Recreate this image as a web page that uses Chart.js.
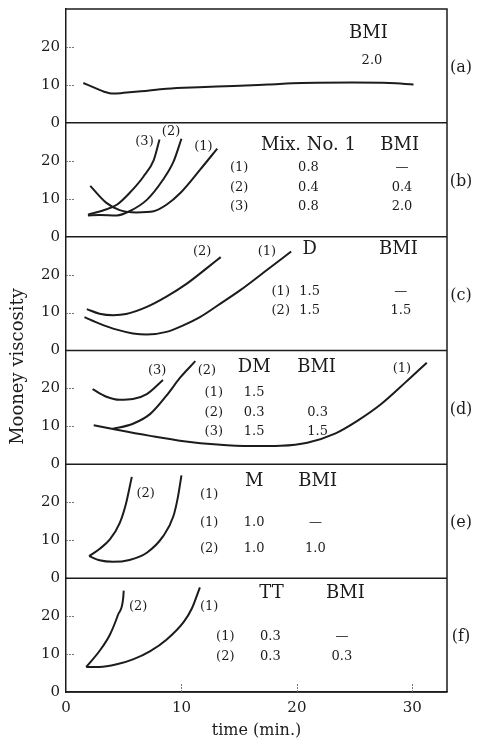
<!DOCTYPE html>
<html><head><meta charset="utf-8">
<script src="https://cdn.jsdelivr.net/npm/chart.js@4"></script>
<style>html,body{margin:0;padding:0;background:#fff;}canvas{display:block;}</style>
</head><body>
<canvas id="c" width="482" height="739"></canvas>
<script>
// ---------- data (time in min, Mooney viscosity) ----------
const panelLabels = ['(a)','(b)','(c)','(d)','(e)','(f)'];
const xTicks = [0, 10, 20, 30];
const yTicks = [0, 10, 20];

const a_time  = [1.5, 2.5, 3.3, 4.1, 5, 6.5, 8.7, 11.5, 14.5, 17.5, 20.4, 24.8, 28, 30.1];
const a_visc  = [10.5, 9.2, 8.2, 7.7, 7.9, 8.3, 9.0, 9.4, 9.7, 10.1, 10.5, 10.6, 10.5, 10.1];

const b1_time = [2.1, 3.5, 4.65, 6.1, 7.6, 8.7, 9.9, 11.6, 13.1];
const b1_visc = [13.4, 8.9, 7.0, 6.4, 6.7, 8.4, 11.5, 17.6, 23.2];
const b2_time = [1.9, 2.9, 4.4, 5.5, 7.0, 8.4, 9.3, 10.0];
const b2_visc = [5.6, 5.7, 5.6, 6.7, 9.7, 15.0, 19.7, 25.8];
const b3_time = [1.9, 3.2, 4.4, 5.5, 6.7, 7.6, 8.1];
const b3_visc = [5.8, 6.9, 8.4, 11.5, 15.8, 20.2, 25.6];

const c1_time = [1.6, 2.9, 4.4, 5.8, 7.0, 8.7, 10.2, 11.6, 13.1, 15.1, 17.4, 19.5];
const c1_visc = [8.8, 7.1, 5.5, 4.5, 4.2, 4.9, 6.7, 8.8, 11.8, 15.9, 21.2, 26.1];
const c2_time = [1.8, 2.9, 4.1, 5.2, 7.0, 8.7, 10.5, 12.2, 13.4];
const c2_visc = [10.9, 9.7, 9.3, 9.6, 11.5, 14.2, 17.7, 21.7, 24.6];

const d1_time = [2.4, 4.4, 7.3, 10.2, 13.1, 16.0, 18.6, 20.9, 23.3, 25.3, 27.3, 29.4, 31.25];
const d1_visc = [10.3, 9.1, 7.5, 6.1, 5.2, 4.8, 4.9, 5.7, 8.1, 11.6, 15.9, 21.6, 26.8];
const d2_time = [4.0, 5.8, 7.3, 8.7, 9.9, 11.2];
const d2_visc = [9.3, 10.7, 13.3, 18.1, 22.9, 27.2];
const d3_time = [2.3, 3.5, 4.65, 5.8, 7.0, 8.4];
const d3_visc = [19.8, 17.8, 17.0, 17.2, 18.5, 22.2];

const e1_time = [2.0, 2.9, 4.07, 5.5, 7.0, 8.4, 9.3, 9.7, 10.0];
const e1_visc = [5.8, 4.7, 4.3, 4.8, 6.7, 11.0, 16.3, 21.5, 27.1];
const e2_time = [2.0, 2.9, 3.8, 4.65, 5.2, 5.7];
const e2_visc = [5.8, 7.7, 10.2, 14.5, 19.7, 26.7];

const f1_time = [1.75, 2.9, 4.4, 5.8, 7.3, 8.7, 10.2, 10.9, 11.6];
const f1_visc = [6.6, 6.6, 7.3, 8.6, 10.8, 13.8, 18.5, 22.0, 27.6];
const f2_time = [1.75, 2.9, 3.8, 4.5, 4.95, 5.0];
const f2_visc = [6.6, 10.8, 15.1, 20.3, 24.6, 26.7];

// table texts in each panel
const tableA = { head: ['BMI'], rows: [['2.0']] };
const tableB = { head: ['Mix. No. 1', 'BMI'], rows: [['(1)','0.8','—'], ['(2)','0.4','0.4'], ['(3)','0.8','2.0']] };
const tableC = { head: ['D', 'BMI'], rows: [['(1)','1.5','—'], ['(2)','1.5','1.5']] };
const tableD = { head: ['DM', 'BMI'], rows: [['(1)','1.5',''], ['(2)','0.3','0.3'], ['(3)','1.5','1.5']] };
const tableE = { head: ['M', 'BMI'], rows: [['(1)','1.0','—'], ['(2)','1.0','1.0']] };
const tableF = { head: ['TT', 'BMI'], rows: [['(1)','0.3','—'], ['(2)','0.3','0.3']] };

// ---------- layout of annotations (data coordinates of each panel) ----------
const panelIds = ['ya','yb','yc','yd','ye','yf'];
const tableLayout = [
  { id:'ya', t: tableA, headX:[26.2], headY:23.5, colX:[26.5], rowY:[16.5] },
  { id:'yb', t: tableB, headX:[21.0, 28.9], headY:24.2, colX:[15.0, 21.0, 29.1], rowY:[18.3, 12.9, 8.0] },
  { id:'yc', t: tableC, headX:[21.1, 28.8], headY:26.6, colX:[18.6, 21.1, 29.0], rowY:[15.4, 10.5] },
  { id:'yd', t: tableD, headX:[16.3, 21.7], headY:25.5, colX:[12.8, 16.3, 21.8], rowY:[19.0, 13.6, 8.5] },
  { id:'ye', t: tableE, headX:[16.3, 21.8], headY:25.5, colX:[12.4, 16.3, 21.6], rowY:[14.6, 7.8] },
  { id:'yf', t: tableF, headX:[17.8, 24.2], headY:26.0, colX:[13.8, 17.7, 23.9], rowY:[14.6, 9.3] }
];
const curveLabels = [
  { id:'yb', text:'(3)', x:6.8, y:25.0 }, { id:'yb', text:'(2)', x:9.1, y:27.8 }, { id:'yb', text:'(1)', x:11.9, y:23.8 },
  { id:'yc', text:'(2)', x:11.8, y:26.1 }, { id:'yc', text:'(1)', x:17.4, y:26.1 },
  { id:'yd', text:'(3)', x:7.9, y:24.6 }, { id:'yd', text:'(2)', x:12.2, y:24.6 }, { id:'yd', text:'(1)', x:29.1, y:25.2 },
  { id:'ye', text:'(2)', x:6.9, y:22.3 }, { id:'ye', text:'(1)', x:12.4, y:21.9 },
  { id:'yf', text:'(2)', x:6.25, y:22.4 }, { id:'yf', text:'(1)', x:12.4, y:22.4 }
];

const curves = [
  [a_time, a_visc, 'ya'],
  [b1_time, b1_visc, 'yb'], [b2_time, b2_visc, 'yb'], [b3_time, b3_visc, 'yb'],
  [c1_time, c1_visc, 'yc'], [c2_time, c2_visc, 'yc'],
  [d1_time, d1_visc, 'yd'], [d2_time, d2_visc, 'yd'], [d3_time, d3_visc, 'yd'],
  [e1_time, e1_visc, 'ye'], [e2_time, e2_visc, 'ye'],
  [f1_time, f1_visc, 'yf'], [f2_time, f2_visc, 'yf']
];

const FONT = '"DejaVu Serif"';
const INK = '#1c1c1c';

const datasets = curves.map(([t, v, id]) => ({
  data: t.map((x, i) => ({ x, y: v[i] })),
  yAxisID: id,
  borderColor: INK,
  borderWidth: 2,
  pointRadius: 0,
  fill: false,
  cubicInterpolationMode: 'monotone'
}));

function yAxis(w) {
  return {
    type: 'linear', position: 'left', stack: 'panels', stackWeight: 1, weight: w,
    min: 0, max: 30,
    ticks: { stepSize: 10, includeBounds: false, autoSkip: false, padding: 6, color: INK,
             font: { family: FONT, size: 15 },
             callback: v => (yTicks.includes(v) ? String(v) : '') },
    grid: { display: true, drawOnChartArea: false, drawTicks: false },
    border: { display: true, color: INK, width: 1.5 },
    afterFit: s => { s.width = 66; s.paddingTop = 0; s.paddingBottom = 0; }
  };
}

const scales = {
  x: {
    type: 'linear', position: 'bottom', min: 0, max: 33,
    ticks: { stepSize: 10, includeBounds: false, autoSkip: false, padding: 7, color: INK,
             font: { family: FONT, size: 15 },
             callback: v => (xTicks.includes(v) ? String(v) : '') },
    grid: { display: true, drawOnChartArea: false, drawTicks: false },
    border: { display: true, color: INK, width: 1.5 },
    title: { display: true, text: 'time (min.)', color: INK, font: { family: FONT, size: 16, lineHeight: 1.0 }, padding: { top: 0, bottom: 0 } },
    afterFit: s => { s.height = 47; s.paddingLeft = 0; s.paddingRight = 0; }
  }
};
panelIds.forEach((id, i) => { scales[id] = yAxis(6 - i); });

const deco = {
  id: 'deco',
  afterDraw(chart) {
    const ctx = chart.ctx, ca = chart.chartArea, xs = chart.scales.x;
    ctx.save();
    // frame and panel separators
    ctx.strokeStyle = INK; ctx.lineWidth = 1.5;
    ctx.beginPath();
    ctx.moveTo(ca.left, ca.top); ctx.lineTo(ca.right, ca.top); ctx.lineTo(ca.right, ca.bottom);
    panelIds.forEach(id => { const s = chart.scales[id]; ctx.moveTo(ca.left, s.bottom); ctx.lineTo(ca.right, s.bottom); });
    ctx.stroke();
    // inner tick marks
    ctx.beginPath();
    ctx.strokeStyle = '#777'; ctx.lineWidth = 1; ctx.setLineDash([2, 1]);
    panelIds.forEach(id => {
      const s = chart.scales[id];
      yTicks.forEach(v => { if (v === 0) return; const y = Math.round(s.getPixelForValue(v)) + 0.5; ctx.moveTo(ca.left, y); ctx.lineTo(ca.left + 9, y); });
    });
    xTicks.forEach(t => { if (t === 0) return; const x = Math.round(xs.getPixelForValue(t)) + 0.5; ctx.moveTo(x, ca.bottom); ctx.lineTo(x, ca.bottom - 9); });
    ctx.stroke();
    ctx.setLineDash([]);
    // texts
    ctx.fillStyle = INK; ctx.textAlign = 'center'; ctx.textBaseline = 'middle';
    const put = (txt, px, py, size) => { ctx.font = size + 'px ' + FONT; ctx.fillText(txt, px, py); };
    tableLayout.forEach(L => {
      const s = chart.scales[L.id];
      L.t.head.forEach((h, i) => put(h, xs.getPixelForValue(L.headX[i]), s.getPixelForValue(L.headY), 18));
      L.t.rows.forEach((row, r) => row.forEach((cell, c) => {
        if (!cell) return;
        put(cell, xs.getPixelForValue(L.colX[c]), s.getPixelForValue(L.rowY[r]), 13);
      }));
    });
    curveLabels.forEach(l => put(l.text, xs.getPixelForValue(l.x), chart.scales[l.id].getPixelForValue(l.y), 13));
    // panel labels on the right
    panelIds.forEach((id, i) => { const s = chart.scales[id]; put(panelLabels[i], ca.right + 14, (s.top + s.bottom) / 2 + 2, 16); });
    // y axis title
    ctx.save();
    ctx.translate(18, (ca.top + ca.bottom) / 2 + 16);
    ctx.rotate(-Math.PI / 2);
    put('Mooney viscosity', 0, 0, 18);
    ctx.restore();
    ctx.restore();
  }
};

new Chart(document.getElementById('c'), {
  type: 'line',
  data: { datasets },
  options: {
    responsive: false, devicePixelRatio: 1, animation: false,
    parsing: false,
    layout: { padding: { top: 9, right: 35, left: 0, bottom: 0 } },
    plugins: { legend: { display: false }, tooltip: { enabled: false }, title: { display: false } },
    scales
  },
  plugins: [deco]
});
</script>
</body></html>
